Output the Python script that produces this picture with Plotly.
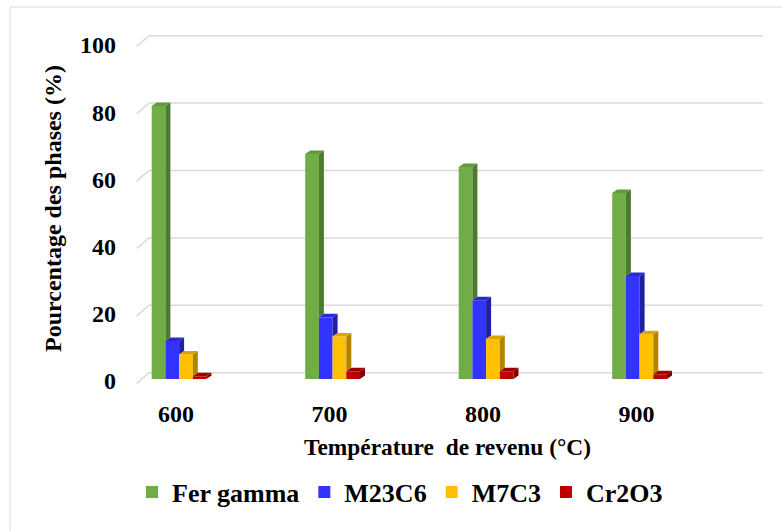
import plotly.graph_objects as go

# ---- data -------------------------------------------------------------
temperatures = ["600", "700", "800", "900"]
fer_gamma = [81.0, 66.8, 62.9, 55.2]
m23c6 = [11.3, 18.3, 23.4, 30.6]
m7c3 = [7.3, 12.6, 11.9, 13.3]
cr2o3 = [0.8, 2.3, 2.3, 1.4]
y_ticks = [0, 20, 40, 60, 80, 100]

series_names = ["Fer gamma", "M23C6", "M7C3", "Cr2O3"]
series_values = [fer_gamma, m23c6, m7c3, cr2o3]
front_colors = ["#70AD47", "#3333FF", "#FFC000", "#C00000"]
top_colors = ["#5F9A3B", "#2828D6", "#D9A300", "#A00000"]
side_colors = ["#4C7A2F", "#2020A0", "#B08400", "#850000"]

# ---- page geometry (pixels) ---------------------------------------------
W, H = 782, 531
ML, MR, MT, MB = 125, 12, 20, 134
plot_w = W - ML - MR
plot_h = H - MT - MB
PX_PER_CAT = 153.5        # distance between category groups
PX_PER_PCT = 3.37         # vertical pixels per percent
CAT0_PX = 179.1           # centre of first group
ZERO_PX = 379.0           # bar baseline


def px_to_x(px):
    return (px - CAT0_PX) / PX_PER_CAT


def px_to_y(py):
    return (ZERO_PX - py) / PX_PER_PCT


def px_to_paper_x(px):
    return (px - ML) / plot_w


def px_to_paper_y(py):
    return (MT + plot_h - py) / plot_h


x_range = [px_to_x(ML), px_to_x(W - MR)]
y_range = [px_to_y(MT + plot_h), px_to_y(MT)]

bar_w = 13.7 / PX_PER_CAT
bar_dx = 5.0 / PX_PER_CAT       # depth of the columns
bar_dy = 3.5 / PX_PER_PCT

wall_front_x = px_to_x(136.7)
wall_back_x = px_to_x(149.0)
wall_right_x = px_to_x(763.0)
wall_back_dy = 1.87
wall_front_dy = -1.28

font_family = "Liberation Serif"
text_font = dict(family=font_family, size=24, color="black", weight="bold")
legend_font = dict(family=font_family, size=26, color="black", weight="bold")
xtitle_font = dict(family=font_family, size=23.4, color="black", weight="bold")

fig = go.Figure()

n_series = len(series_values)
xs = list(range(len(temperatures)))

# front faces of the columns
for k, (name, vals) in enumerate(zip(series_names, series_values)):
    offset = -n_series / 2 * bar_w + k * bar_w
    fig.add_trace(go.Bar(
        x=xs, y=vals, name=name, width=bar_w, offset=offset,
        marker=dict(color=front_colors[k], line=dict(width=0)),
        hoverinfo="name+y",
    ))

# side and top faces give the columns their depth
for k, vals in enumerate(series_values):
    offset = -n_series / 2 * bar_w + k * bar_w
    side_x, side_y, top_x, top_y = [], [], [], []
    for i, v in enumerate(vals):
        x0 = i + offset
        x1 = x0 + bar_w
        if k + 1 < n_series:
            nxt = series_values[k + 1][i]
            if v > nxt:
                side_x += [x1, x1 + bar_dx, x1 + bar_dx, x1, x1, None]
                side_y += [nxt, nxt + bar_dy, v + bar_dy, v, nxt, None]
        else:
            side_x += [x1, x1 + bar_dx, x1 + bar_dx, x1, x1, None]
            side_y += [0, bar_dy, v + bar_dy, v, 0, None]
        top_x += [x0, x1, x1 + bar_dx, x0 + bar_dx, x0, None]
        top_y += [v, v, v + bar_dy, v + bar_dy, v, None]
    fig.add_trace(go.Scatter(
        x=side_x, y=side_y, mode="lines", fill="toself",
        fillcolor=side_colors[k], line=dict(width=0, color=side_colors[k]),
        showlegend=False, hoverinfo="skip",
    ))
    fig.add_trace(go.Scatter(
        x=top_x, y=top_y, mode="lines", fill="toself",
        fillcolor=top_colors[k], line=dict(width=0, color=top_colors[k]),
        showlegend=False, hoverinfo="skip",
    ))

# back-wall gridlines and side-wall ticks
shapes = []
for t in y_ticks:
    shapes.append(dict(type="line", xref="x", yref="y", layer="below",
                       x0=wall_back_x, x1=wall_right_x,
                       y0=t + wall_back_dy, y1=t + wall_back_dy,
                       line=dict(color="#D9D9D9", width=1.5)))
    shapes.append(dict(type="line", xref="x", yref="y", layer="below",
                       x0=wall_front_x, x1=wall_back_x,
                       y0=t + wall_front_dy, y1=t + wall_back_dy,
                       line=dict(color="#D9D9D9", width=1.5)))
# chart frame
shapes.append(dict(type="rect", xref="paper", yref="paper", layer="below",
                   x0=px_to_paper_x(10), x1=px_to_paper_x(800),
                   y0=px_to_paper_y(560), y1=px_to_paper_y(7),
                   line=dict(color="#D9D9D9", width=1), fillcolor="rgba(0,0,0,0)"))

# value-axis labels sit on the front plane of the floor
ytick_pos = [px_to_y(381.0 - 3.36 * t) for t in y_ticks]

fig.update_layout(
    width=W, height=H,
    margin=dict(l=ML, r=MR, t=MT, b=MB, pad=0, autoexpand=False),
    paper_bgcolor="white", plot_bgcolor="white",
    barmode="overlay",
    font=text_font,
    shapes=shapes,
    showlegend=True,
    legend=dict(orientation="h", x=px_to_paper_x(132), xanchor="left",
                y=px_to_paper_y(492), yanchor="middle",
                font=legend_font, traceorder="normal", itemwidth=30,
                bgcolor="rgba(0,0,0,0)"),
    xaxis=dict(
        range=x_range, showgrid=False, zeroline=False, showline=False,
        automargin=False,
        tickmode="array", tickvals=[i + px_to_x(CAT0_PX - 3) for i in xs],
        ticktext=temperatures, ticks="", tickfont=text_font,
        title=dict(text="Température  de revenu (°C)", standoff=12, font=xtitle_font),
    ),
    yaxis=dict(
        range=y_range, showgrid=False, zeroline=False, showline=False,
        automargin=False,
        tickmode="array", tickvals=ytick_pos,
        ticktext=[str(t) for t in y_ticks], ticks="", ticklabelstandoff=8,
        tickfont=text_font,
        title=dict(text="Pourcentage des phases (%)", standoff=11, font=text_font),
    ),
)

fig.write_html("out.html")
